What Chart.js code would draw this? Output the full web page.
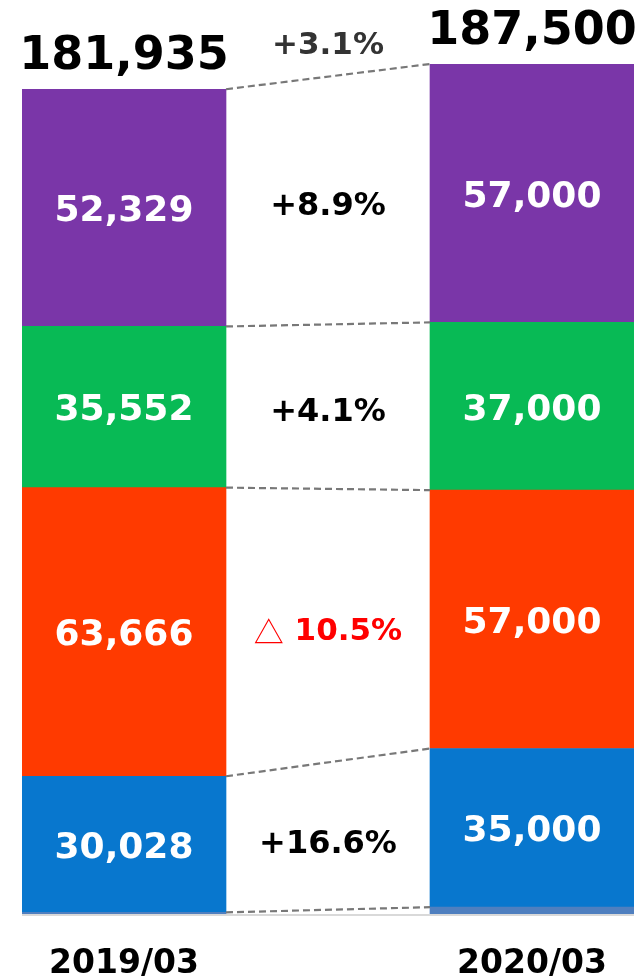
<!DOCTYPE html>
<html>
<head>
<meta charset="utf-8">
<script src="https://cdn.jsdelivr.net/npm/chart.js@4.4.1/dist/chart.umd.min.js"></script>
<style>
  html, body { margin: 0; padding: 0; background: #ffffff; }
  #wrap { width: 641px; height: 978px; }
</style>
</head>
<body>
<div id="wrap"><canvas id="c" width="641" height="978"></canvas></div>
<script>
// ---- data ----
const categories = ['2019/03', '', '2020/03'];
const otherValues  = [360,   null, 1500];
const blueValues   = [30028, null, 35000];
const redValues    = [63666, null, 57000];
const greenValues  = [35552, null, 37000];
const purpleValues = [52329, null, 57000];
// change labels, bottom segment to top segment
const changeLabels = ['+16.6%', '△ 10.5%', '+4.1%', '+8.9%'];
const totalChangeLabel = '+3.1%';

const COLORS = {
  other: '#4f7fbf', blue: '#0877ce', red: '#ff3a00', green: '#08ba55', purple: '#7a36a8'
};
const FONT = "'DejaVu Sans', sans-serif";
const fmt = v => v.toLocaleString('en-US');

const segmentSeries = [blueValues, redValues, greenValues, purpleValues];

const overlayPlugin = {
  id: 'overlay',
  afterDatasetsDraw(chart) {
    const ctx = chart.ctx;
    const x = chart.scales.x, y = chart.scales.y;
    const area = chart.chartArea;
    const metaA = chart.getDatasetMeta(1).data[0];
    const metaB = chart.getDatasetMeta(1).data[2];
    const halfW = metaA.width / 2;
    const xA = metaA.x, xB = metaB.x, xMid = x.getPixelForValue(1);

    ctx.save();
    // baseline axis
    ctx.strokeStyle = '#d9d9d9';
    ctx.lineWidth = 2;
    ctx.beginPath();
    ctx.moveTo(area.left, area.bottom + 1);
    ctx.lineTo(area.right, area.bottom + 1);
    ctx.stroke();

    // cumulative boundaries
    const cumA = [otherValues[0]], cumB = [otherValues[2]];
    segmentSeries.forEach(s => {
      cumA.push(cumA[cumA.length - 1] + s[0]);
      cumB.push(cumB[cumB.length - 1] + s[2]);
    });

    // dashed connectors
    ctx.strokeStyle = '#787878';
    ctx.lineWidth = 2.2;
    ctx.setLineDash([7, 4]);
    for (let i = 0; i < cumA.length; i++) {
      ctx.beginPath();
      ctx.moveTo(xA + halfW, y.getPixelForValue(cumA[i]));
      ctx.lineTo(xB - halfW, y.getPixelForValue(cumB[i]));
      ctx.stroke();
    }
    ctx.setLineDash([]);

    ctx.textAlign = 'center';
    ctx.textBaseline = 'middle';

    // segment value labels
    const midsA = [], midsB = [];
    segmentSeries.forEach((s, i) => {
      const ya = (y.getPixelForValue(cumA[i]) + y.getPixelForValue(cumA[i + 1])) / 2 + 4;
      const yb = (y.getPixelForValue(cumB[i]) + y.getPixelForValue(cumB[i + 1])) / 2 + 4;
      midsA.push(ya); midsB.push(yb);
      ctx.fillStyle = '#ffffff';
      ctx.font = 'bold 36px ' + FONT;
      ctx.fillText(fmt(s[0]), xA, ya);
      ctx.fillText(fmt(s[2]), xB, yb);
    });

    // change labels
    changeLabels.forEach((lab, i) => {
      const yy = (midsA[i] + midsB[i]) / 2 + 2 + (i === 0 ? 3 : 0);
      if (lab.startsWith('△')) {
        ctx.fillStyle = '#ff0000';
        const rest = lab.slice(1);
        ctx.font = "30px 'Noto Sans CJK JP', sans-serif";
        const w1 = ctx.measureText('△').width;
        ctx.font = 'bold 31px ' + FONT;
        const w2 = ctx.measureText(rest).width;
        const start = xMid - (w1 + w2) / 2;
        ctx.textAlign = 'left';
        ctx.font = "30px 'Noto Sans CJK JP', sans-serif";
        ctx.fillText('△', start, yy);
        ctx.font = 'bold 31px ' + FONT;
        ctx.fillText(rest, start + w1, yy);
        ctx.textAlign = 'center';
      } else {
        ctx.fillStyle = '#000000';
        ctx.font = 'bold 32px ' + FONT;
        ctx.fillText(lab, xMid, yy);
      }
    });

    // totals
    const totA = cumA[cumA.length - 1], totB = cumB[cumB.length - 1];
    const tyA = y.getPixelForValue(totA) - 32, tyB = y.getPixelForValue(totB) - 32;
    ctx.fillStyle = '#000000';
    ctx.font = 'bold 46px ' + FONT;
    ctx.fillText(fmt(totA), xA, tyA);
    ctx.fillText(fmt(totB), xB, tyB);
    ctx.fillStyle = '#333333';
    ctx.font = 'bold 31px ' + FONT;
    ctx.fillText(totalChangeLabel, xMid, (tyA + tyB) / 2 + 1);

    // category labels
    ctx.fillStyle = '#000000';
    ctx.font = 'bold 33px ' + FONT;
    categories.forEach((c, i) => {
      if (c) ctx.fillText(c, x.getPixelForValue(i), area.bottom + 50);
    });
    ctx.restore();
  }
};

new Chart(document.getElementById('c'), {
  type: 'bar',
  data: {
    labels: categories,
    datasets: [
      { label: 'other',  data: otherValues,  backgroundColor: COLORS.other },
      { label: 'blue',   data: blueValues,   backgroundColor: COLORS.blue },
      { label: 'red',    data: redValues,    backgroundColor: COLORS.red },
      { label: 'green',  data: greenValues,  backgroundColor: COLORS.green },
      { label: 'purple', data: purpleValues, backgroundColor: COLORS.purple }
    ]
  },
  options: {
    responsive: false,
    animation: false,
    layout: { padding: { left: 22, right: 7, top: 64, bottom: 64 } },
    datasets: { bar: { categoryPercentage: 1, barPercentage: 1, borderWidth: 0 } },
    plugins: { legend: { display: false }, tooltip: { enabled: false } },
    scales: {
      x: { stacked: true, display: false },
      y: { stacked: true, display: false, min: 0, max: 187500 }
    }
  },
  plugins: [overlayPlugin]
});
</script>
</body>
</html>
